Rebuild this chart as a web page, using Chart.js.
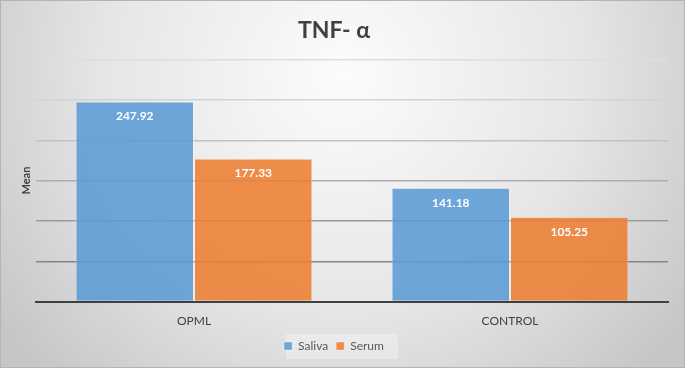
<!DOCTYPE html>
<html lang="en">
<head>
    <meta charset="UTF-8" />
    <title>TNF- α</title>
    <script src="https://cdn.jsdelivr.net/npm/chart.js@4.4.0/dist/chart.umd.min.js"></script>
    <style>
        body { margin: 0; background: #fff; }
        .wrap { width: 685px; height: 368px; position: relative; }
    </style>
</head>
<body>
    <div class="wrap"><canvas id="tnfChart"></canvas></div>
    <script>
        const groups = ['OPML', 'CONTROL'];
        const salivaMeans = [247.92, 141.18];
        const serumMeans = [177.33, 105.25];
        const gridShades = ['rgba(0,0,0,0)', '#858585', '#9a9a9a', '#adadad', '#c2c2c2', '#d3d3d3', '#dedede'];

        // gray radial backdrop + outer frame
        const backdrop = {
            id: 'backdrop',
            beforeDraw(chart) {
                const { ctx, width, height } = chart;
                ctx.save();
                const g = ctx.createRadialGradient(width * 0.5, height * 0.2, 10, width * 0.5, height * 0.2, width * 0.62);
                g.addColorStop(0, '#fbfbfb');
                g.addColorStop(0.55, '#e6e6e6');
                g.addColorStop(1, '#c6c6c6');
                ctx.fillStyle = g;
                ctx.fillRect(0, 0, width, height);
                ctx.strokeStyle = '#b4b4b4';
                ctx.lineWidth = 1;
                ctx.strokeRect(0.5, 0.5, width - 1, height - 1);
                // legend box
                ctx.fillStyle = 'rgba(255,255,255,0.3)';
                ctx.fillRect(286, 334, 112, 25);
                ctx.restore();
            }
        };

        // values written near the top of each bar
        const barValues = {
            id: 'barValues',
            afterDatasetsDraw(chart) {
                const { ctx } = chart;
                ctx.save();
                ctx.fillStyle = '#ffffff';
                ctx.font = 'bold 12px Lato';
                ctx.textAlign = 'center';
                ctx.textBaseline = 'middle';
                chart.data.datasets.forEach((ds, i) => {
                    chart.getDatasetMeta(i).data.forEach((bar, j) => {
                        ctx.fillText(ds.data[j].toFixed(2), bar.x, bar.y + 15);
                    });
                });
                ctx.restore();
            }
        };

        new Chart(document.getElementById('tnfChart'), {
            type: 'bar',
            data: {
                labels: groups,
                datasets: [
                    {
                        label: 'Saliva',
                        data: salivaMeans,
                        backgroundColor: 'rgba(91,155,213,0.88)',
                        borderColor: 'rgba(255,255,255,0.35)',
                        borderWidth: 1
                    },
                    {
                        label: 'Serum',
                        data: serumMeans,
                        backgroundColor: 'rgba(237,125,49,0.88)',
                        borderColor: 'rgba(255,255,255,0.35)',
                        borderWidth: 1
                    }
                ]
            },
            options: {
                responsive: true,
                maintainAspectRatio: false,
                animation: false,
                datasets: { bar: { categoryPercentage: 0.75, barPercentage: 1.0 } },
                layout: { padding: { left: 0, right: 17, top: 5, bottom: 6 } },
                plugins: {
                    title: {
                        display: true,
                        text: 'TNF- α',
                        color: '#404040',
                        font: { family: 'Lato', size: 23, weight: 'bold' },
                        padding: { top: 12, bottom: 15 }
                    },
                    legend: {
                        position: 'bottom',
                        labels: {
                            color: '#595959',
                            font: { family: 'Lato', size: 12 },
                            boxWidth: 8,
                            boxHeight: 8,
                            padding: 8
                        }
                    },
                    tooltip: { enabled: false }
                },
                scales: {
                    x: {
                        grid: { display: false },
                        border: { color: '#404040', width: 2 },
                        ticks: { color: '#404040', font: { family: 'Lato', size: 12 }, padding: 4 }
                    },
                    y: {
                        min: 0,
                        max: 300,
                        ticks: { display: false, stepSize: 50 },
                        grid: {
                            color: c => gridShades[c.index] || '#d0d0d0',
                            lineWidth: 1.5,
                            drawTicks: false
                        },
                        border: { display: false },
                        title: {
                            display: true,
                            text: 'Mean',
                            color: '#404040',
                            font: { family: 'Lato', size: 11, weight: 'bold' },
                            padding: { top: 20, bottom: 4 }
                        },
                        afterFit(scale) { scale.width = 36; }
                    }
                }
            },
            plugins: [backdrop, barValues]
        });
    </script>
</body>
</html>
